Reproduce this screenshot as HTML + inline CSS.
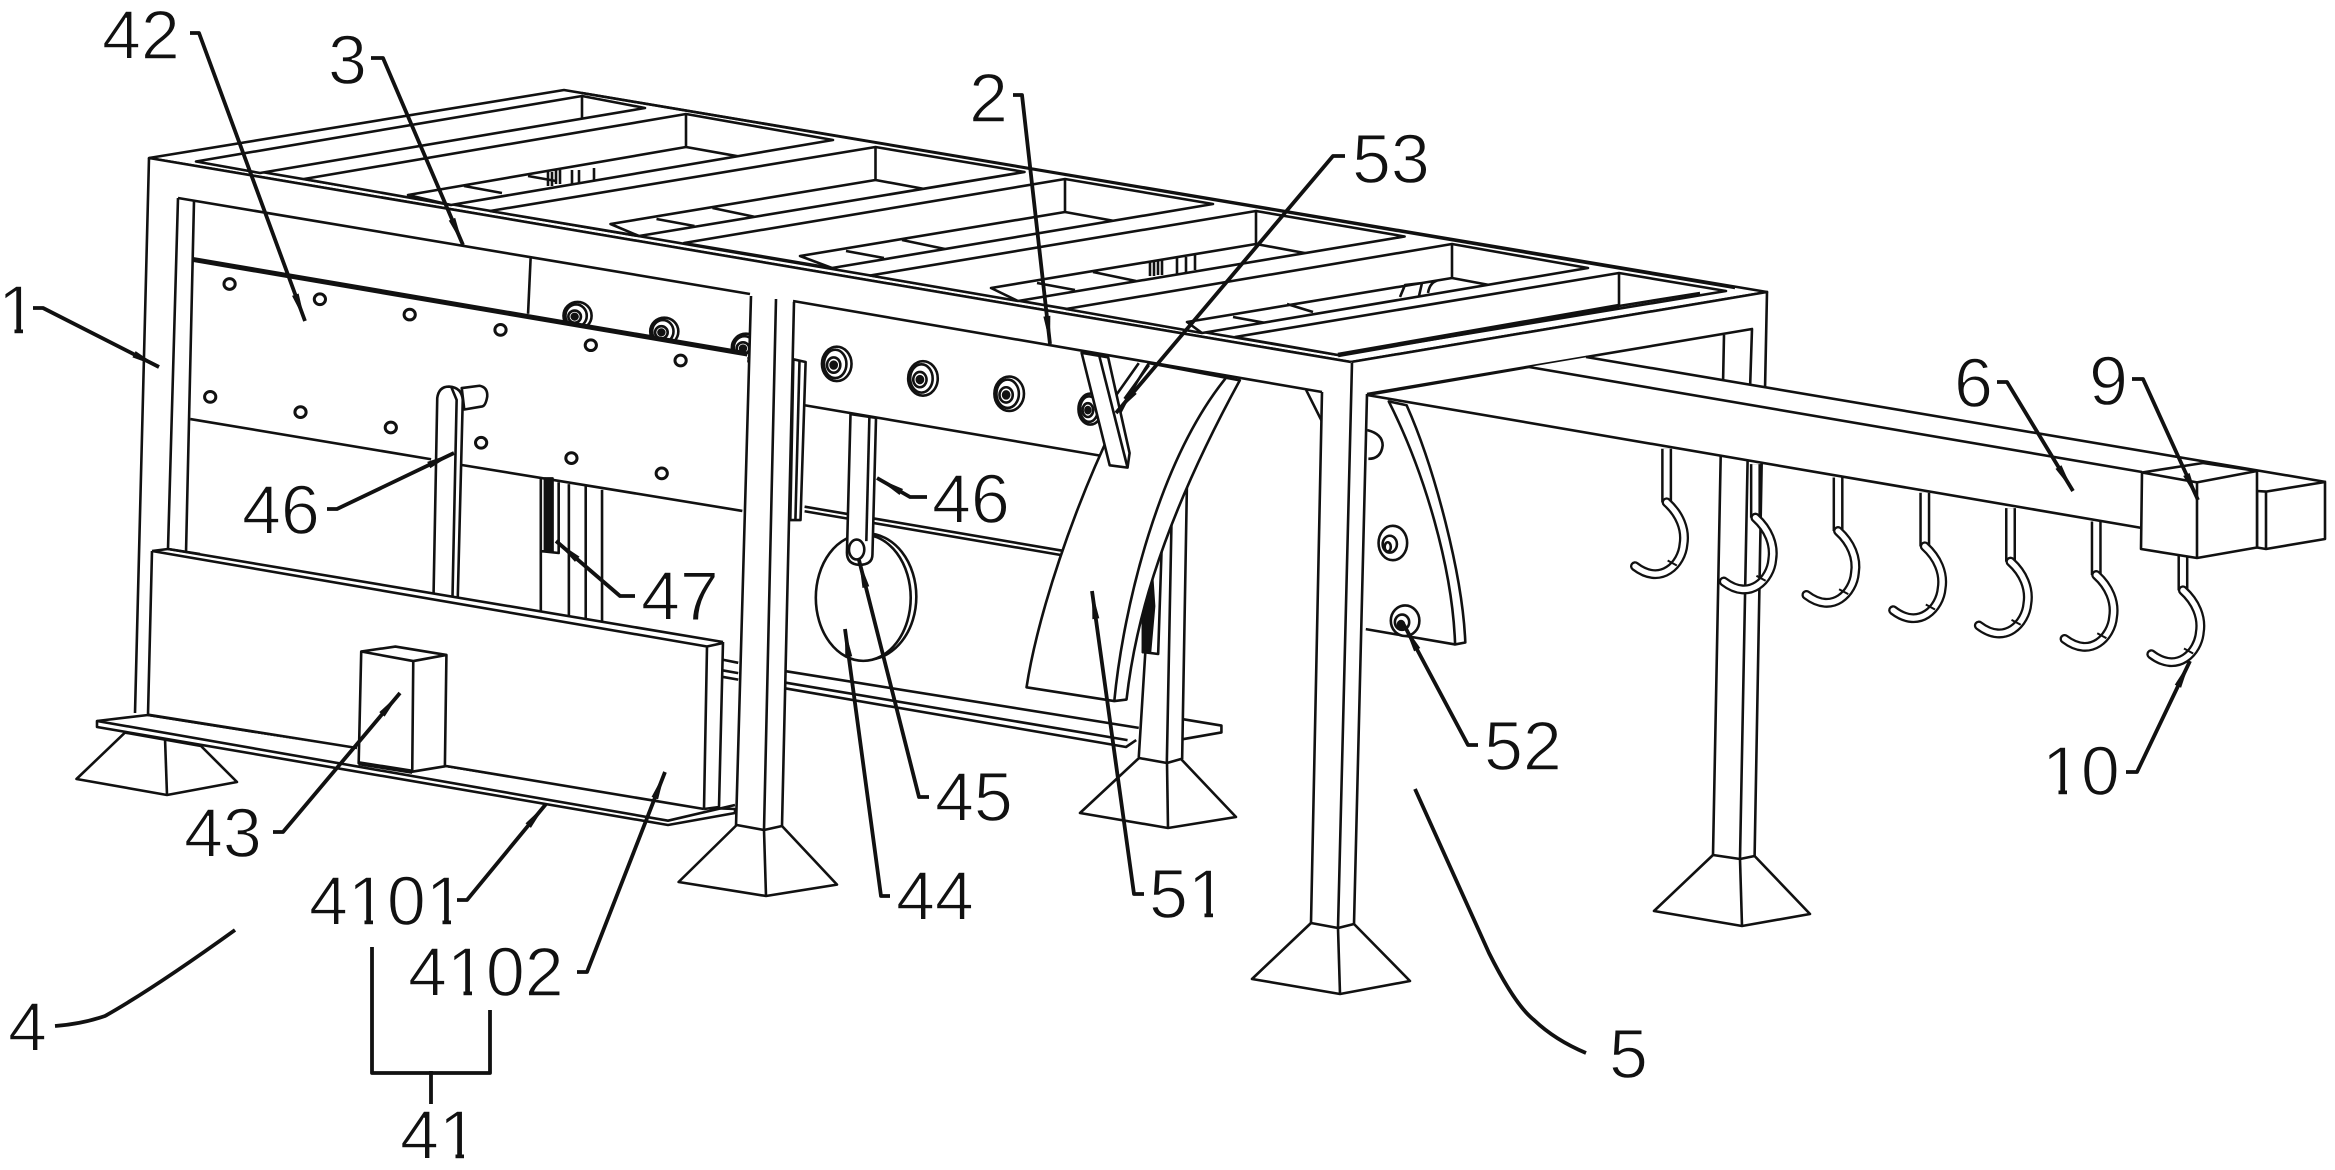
<!DOCTYPE html>
<html><head><meta charset="utf-8"><style>
html,body{margin:0;padding:0;background:#fff}
svg{display:block}
svg *{vector-effect:non-scaling-stroke}
path,polygon,polyline,line,ellipse{fill:none;stroke:#111;stroke-width:2.6;stroke-linejoin:round}
.w{fill:#fff}
.n{fill:#fff;stroke:none}
.k{fill:#111}
.l{stroke-width:3.8;fill:none;stroke:#111}
.e{marker-end:url(#a)}
.s{marker-start:url(#a)}
text{font:70px "Liberation Sans",sans-serif;fill:#111;stroke:#fff;stroke-width:1.4}
</style></head><body>
<svg xmlns="http://www.w3.org/2000/svg" width="2335" height="1170" viewBox="0 0 2335 1170">
<defs>
<marker id="a" markerUnits="userSpaceOnUse" markerWidth="30" markerHeight="10" refX="28" refY="5" orient="auto-start-reverse" overflow="visible"><path d="M0,1.5L28,5L0,8.5Z" style="fill:#111;stroke:none"/></marker>
<clipPath id="c1"><polygon points="196,161.5 582,96 645,108 260,173"/></clipPath>
<clipPath id="c2"><polygon points="304,179 686,114 833,140 451,205"/></clipPath>
<clipPath id="c3"><polygon points="490,211 875.5,147 1024.5,172 639,236"/></clipPath>
<clipPath id="c4"><polygon points="684,243 1065,179 1213,204 832,268"/></clipPath>
<clipPath id="c5"><polygon points="870,275.5 1256,211 1404.6,236.5 1018,301"/></clipPath>
<clipPath id="c6"><polygon points="1066,309 1452,244 1588,268 1202,333"/></clipPath>
<clipPath id="c7"><polygon points="1235,337 1619,273 1726,291 1338,355"/></clipPath>
<g id="hook">
<path d="M0,-140V0" style="stroke-width:11"/><path d="M0,-140V-1" style="stroke:#fff;stroke-width:6"/>
<path d="M0,0C25,30 38,70 33,110C30,160 -10,220 -62,167" style="stroke-width:10;stroke-linecap:round"/>
<path d="M0,0C25,30 38,70 33,110C30,160 -10,220 -62,167" style="stroke:#fff;stroke-width:5.4;stroke-linecap:round"/>
<path d="M2,152L20,165" style="stroke-width:2"/>
</g>
<g id="bolt"><ellipse class="w" cx="0" cy="0" rx="29" ry="45"/><ellipse cx="-3" cy="0" rx="22" ry="37"/><ellipse cx="-6" cy="3" rx="13" ry="20"/><ellipse class="k" cx="-6" cy="3" rx="6" ry="9"/></g>
<g id="hole"><ellipse cx="0" cy="0" rx="11" ry="14" style="stroke-width:3"/></g>
<path id="f1" class="n" d="M3,-7h13.5v9h-13.5zM25,-7h13v9h-13z"/>
</defs>

<!-- top surface -->
<polygon class="w" points="149,158 564,90 1767,292 1351,362"/>
<path d="M582,93L1735,288M250,170L1338,355"/>
<g>
<polygon class="w" points="196,161.5 582,96 645,108 260,173"/>
<g clip-path="url(#c1)"><path d="M582,96V130"/></g>
<polygon class="w" points="304,179 686,114 833,140 451,205"/>
<g clip-path="url(#c2)"><path d="M686,114V147L408,195L451,205M686,147L770,162M464,186L502,193M528,176L556,181"/>
<path d="M572,170V186M579,170V186M594,168V182M548,172V186M552,172V186M556,170V184M560,170V184"/></g>
<polygon class="w" points="490,211 875.5,147 1024.5,172 639,236"/>
<g clip-path="url(#c3)"><path d="M875.5,147V180L610.5,224L639,236M875.5,180L930,190M712.5,208L755.5,217M656.5,219L694.5,226"/></g>
<polygon class="w" points="684,243 1065,179 1213,204 832,268"/>
<g clip-path="url(#c4)"><path d="M1065,179V212L800,256L832,268M1065,212L1120,222M902,240L945,249M846,251L884,258"/></g>
<polygon class="w" points="870,275.5 1256,211 1404.6,236.5 1018,301"/>
<g clip-path="url(#c5)"><path d="M1256,211V244L991,288L1018,301M1256,244L1310,254M1093,272L1136,281M1037,283L1075,290"/>
<path d="M1177,258V274M1186,257V272M1195,255V270M1150,262V276M1154,262V276M1158,260V275M1162,260V275"/></g>
<polygon class="w" points="1066,309 1452,244 1588,268 1202,333"/>
<g clip-path="url(#c6)"><path d="M1452,244V278L1187,322L1202,333M1452,278L1500,287M1287,304L1313,312M1233,317L1271,324M1400,297L1405,285L1422,283L1419,296M1428,293Q1430,281 1440,280L1452,278"/></g>
<polygon class="w" points="1235,337 1619,273 1726,291 1338,355"/>
<g clip-path="url(#c7)"><path d="M1619,273V306L1700,293"/></g>
<path d="M1338,355L1619,306" style="stroke-width:4.6"/>
</g>

<!-- far right frame leg -->
<polygon class="n" points="1351,362 1767,292 1765,400 1723,400 1724,335 1752,329 1367,394"/>
<path d="M1351,362L1767,292L1765,390M1367,394L1752,329L1750,390M1724,335L1723,385"/>

<!-- back foot, far foot left -->
<polygon class="w" points="125,732.6 76.5,779 167,795 237,782 201,746"/>
<path d="M165,738L167,795"/>

<!-- back left plate bits -->
<g transform="translate(0 0) scale(.5102 .3827)">
<polygon class="n" points="380,525 1470,768 1445,1568 365,1445"/>
<path d="M1040,675L1035,820"/>
<use href="#bolt" transform="translate(1132 825) scale(.95 .8)"/>
<use href="#bolt" transform="translate(1302 866) scale(.95 .8)"/>
<use href="#bolt" transform="translate(1462 908) scale(.95 .8)"/>
<polygon class="n" points="378,678 1465,925 1455,1335 905,1215 845,1200 373,1095"/>
<path d="M378,678L1465,925" style="stroke-width:5"/>
<path d="M373,1095L845,1200M905,1215L1455,1335"/>
<use href="#hole" x="450" y="742"/><use href="#hole" x="627" y="782"/><use href="#hole" x="803" y="822"/><use href="#hole" x="981" y="862"/><use href="#hole" x="1158" y="902"/><use href="#hole" x="1334" y="942"/>
<use href="#hole" x="412" y="1037"/><use href="#hole" x="589" y="1077"/><use href="#hole" x="766" y="1117"/><use href="#hole" x="943" y="1157"/><use href="#hole" x="1120" y="1197"/><use href="#hole" x="1297" y="1237"/>
<path d="M1115,1265V1680M1148,1270V1680M1180,1280V1680M1095,1260V1445L1060,1440V1250M1060,1440V1680"/>
<path class="k" d="M1068,1250h15v190h-15z"/>
<path class="w" d="M905,1014L940,1008Q956,1012 955,1036Q952,1060 945,1062L910,1070Z"/>
<path class="w" d="M857,1040Q860,1010 880,1010Q905,1012 907,1045L895,1680H848Z"/>
<path d="M885,1013L895,1045L885,1680"/>
</g>

<!-- middle plate region -->
<g transform="translate(700 300) scale(.5102 .3827)">
<polygon class="n" points="185,3 1220,240 1220,325 755,400 205,275"/>
<use href="#bolt" transform="translate(268 167)"/>
<use href="#bolt" transform="translate(437 205)"/>
<use href="#bolt" transform="translate(606 245)"/>
<use href="#bolt" transform="translate(765 285) scale(.8 .9)"/>
<path d="M205,275L790,408"/>
<path d="M205,540L710,655M205,552L710,667"/>
<path d="M1188,235L1220,320"/>
<polygon class="w" points="183,155 207,162 197,575 177,575"/>
<path d="M195,160L187,575"/>
<!-- disk -->
<ellipse class="w" cx="327" cy="775" rx="97" ry="165"/>
<ellipse class="w" cx="320" cy="778" rx="93" ry="165"/>
<!-- link -->
<path class="w" d="M295,298L288,660Q288,690 312,692Q338,692 338,665L345,308Z"/>
<path d="M332,305L326,630"/>
<ellipse class="w" cx="307" cy="652" rx="15" ry="26"/>
<!-- back rail -->
<path d="M168,970L860,1118M168,1000L838,1150M168,1015L835,1168L855,1150M945,1095L1022,1112V1130L945,1148"/>
<path d="M45,940L75,948M45,968L75,975M45,985L75,992"/>
<!-- back leg -->
<polygon class="n" points="885,660 955,435 945,1200 915,1208 860,1195"/>
<path d="M885,660L860,1195M955,435L945,1200M925,520L915,1208"/>
<polygon class="w" points="905,640 898,925 868,920 880,700"/>
<path class="k" d="M885,700L868,830V920H882L890,800Z"/>
<!-- arch left -->
<path class="w" d="M880,165C790,340 670,750 640,1012L812,1048L836,1044C850,880 890,620 1058,210Z"/>
<path d="M1030,205C900,420 830,800 812,1048" />
<path d="M860,165L815,250M880,170L832,258"/>
<polygon class="w" points="748,138 800,150 842,400 838,438 803,432"/>
<path d="M783,148L838,438"/>
<!-- arch right -->
<path class="n" d="M1350,265C1420,450 1475,700 1480,900L1305,860L1300,250Z"/>
<path d="M1308,340Q1338,350 1338,380Q1335,415 1310,415"/>
<path class="w" d="M1350,265C1420,450 1475,700 1480,900L1500,895C1495,720 1440,440 1385,275Z"/>
<path d="M1305,860L1480,900"/>
<ellipse class="w" cx="1358" cy="635" rx="28" ry="45"/><ellipse cx="1352" cy="638" rx="14" ry="22"/><ellipse cx="1348" cy="645" rx="6" ry="12"/>
<ellipse class="w" cx="1382" cy="838" rx="28" ry="40"/><ellipse cx="1376" cy="842" rx="14" ry="20"/><ellipse class="k" cx="1374" cy="848" rx="6" ry="9"/>
</g>

<!-- back foot -->
<polygon class="w" points="1139,758 1080,813 1168,828 1236,817 1181,759 1167,763"/>
<path d="M1167,763L1168,828"/>

<!-- wall and base plate -->
<polygon class="w" points="148,715 97,721 97,727 668,825 735,813 735,809 707,808 446,766 357,748"/>
<path d="M97,721L668,820.7L735,805M357,748L148,715M446,766L707,808"/>
<polygon class="n" points="152,551 168,549 723,642 719,807 704,809 148,714.6"/>
<path d="M723,642L719,807L704,809M152,551L707,646.5L704,809M723,643L707,646.5M168,549L723,642M148,714.6L357,748M446,766L704,809"/>
<g transform="translate(0 570) scale(.5102 .3827)">
<polygon class="w" points="708,213 775,200 875,222 872,513 808,527 703,505"/>
<path d="M708,213L810,238L875,222M810,238L808,527"/>
<path d="M703,505L808,527" style="stroke-width:4.4"/>
</g>

<!-- front beam and legs -->
<polygon class="n" points="149,158 1351,362 1367,394 1322,392 178,198 168,549 152,551 148,714 135,713"/>
<path d="M149,158L135,713M178,198L168,549M194,201L186,553M149,158L1351,362"/>
<path d="M178,198L750,294M793,301L1322,392"/>
<path d="M152,551L148,714.6M152,551L168,549L200,554"/>
<polygon class="n" points="751,296 794,302 782,826 736,826"/>
<path d="M751,296L736,826M794,302L782,826M776,299L764,830"/>
<polygon class="w" points="736.7,825 678.6,882 766,896 837,884.6 782,826 764,830"/>
<path d="M764,830L766,896"/>
<polygon class="n" points="1322,392 1352,363 1367,394 1354,924 1311,923"/>
<path d="M1322,392L1311,923M1352,363L1338,928M1367,394L1354,924"/>
<polygon class="w" points="1311,923 1252,979 1340,994 1410,981 1354,924 1338,928"/>
<path d="M1338,928L1340,994"/>

<!-- far front leg -->
<polygon class="n" points="1721,440 1762,445 1754.6,856 1713,855"/>
<path d="M1721,440L1713,855M1762,445L1754.6,856M1748,440L1740,859"/>
<polygon class="w" points="1713,855 1654,911 1742,926 1810,914 1754.6,856 1740,859"/>
<path d="M1740,859L1742,926"/>

<!-- hooks -->
<g transform="translate(1535 200) scale(.5102 .3827)">
<use href="#hook" x="258" y="790"/><use href="#hook" x="432" y="830"/><use href="#hook" x="594" y="865"/><use href="#hook" x="764" y="905"/><use href="#hook" x="932" y="945"/><use href="#hook" x="1100" y="980"/><use href="#hook" x="1270" y="1020"/>
</g>

<!-- arm -->
<polygon class="n" points="1367,395 1529,367 1588,357 2326,482 2326,490 2142,528"/>
<path d="M1367,395L1529,367L2142,472M1586,357L2326,482M1367,395L2142,528"/>
<polygon class="w" points="2257,491 2266,491.6 2325,482 2325,539 2266,549 2257,547.5"/>
<path d="M2266,491.6V549"/>
<polygon class="w" points="2142,472.5 2203,463 2257,471 2257,547.5 2197,558 2141,549"/>
<path d="M2142,472.5L2197,482.4L2257,471M2197,482.4L2197,558"/>

<!-- leaders -->
<path class="l e" d="M190,33H199L305,321"/>
<path class="l e" d="M371,58H383L463,245"/>
<path class="l e" d="M33,308H43L159,367"/>
<path class="l e" d="M327,509H337L454,453"/>
<path class="l s" d="M556,541L620,596H635"/>
<path class="l e" d="M1013,95H1022L1050,344"/>
<path class="l e" d="M1345,156H1333L1116,413"/>
<path class="l s" d="M877,478L910,497H927"/>
<path class="l e" d="M2132,379H2143L2198,500"/>
<path class="l e" d="M1997,382H2007L2073,491"/>
<path class="l e" d="M2126,772H2137L2190,661"/>
<path class="l s" d="M1404,625L1468,745H1478"/>
<path class="l s" d="M859,560L919,797H929"/>
<path class="l s" d="M845,629L881,896H890"/>
<path class="l s" d="M1092,591L1134,894H1144"/>
<path class="l s" d="M400,693L283,832H273"/>
<path class="l s" d="M546,804L467,900H457"/>
<path class="l s" d="M665,772L587,972H577"/>
<path class="l" d="M235,930Q153,989 105,1016Q82,1024 55,1026"/>
<path class="l" d="M372,947V1073H490V1010M431,1071V1104"/>
<path class="l" d="M1415,789L1489,953Q1515,1005 1534,1020Q1555,1040 1586,1053"/>

<!-- labels -->
<text x="102" y="59">42</text>
<text x="328" y="84">3</text>
<text x="-2" y="334">1</text>
<text x="242" y="534">46</text>
<text x="641" y="620">47</text>
<text x="969" y="122">2</text>
<text x="1352" y="183">53</text>
<text x="932" y="523">46</text>
<text x="1954" y="407">6</text>
<text x="2089" y="405">9</text>
<text x="2042" y="795">10</text>
<text x="1484" y="770">52</text>
<text x="184" y="857">43</text>
<text x="309" y="925">4101</text>
<text x="408" y="996">4102</text>
<text x="8" y="1051">4</text>
<text x="400" y="1159">41</text>
<text x="935" y="821">45</text>
<text x="896" y="920">44</text>
<text x="1149" y="918">51</text>
<text x="1609" y="1078">5</text>
<use href="#f1" x="-2" y="334"/><use href="#f1" x="348" y="925"/><use href="#f1" x="426" y="925"/><use href="#f1" x="447" y="996"/><use href="#f1" x="2042" y="795"/><use href="#f1" x="439" y="1159"/><use href="#f1" x="1188" y="918"/>
</svg>
</body></html>
